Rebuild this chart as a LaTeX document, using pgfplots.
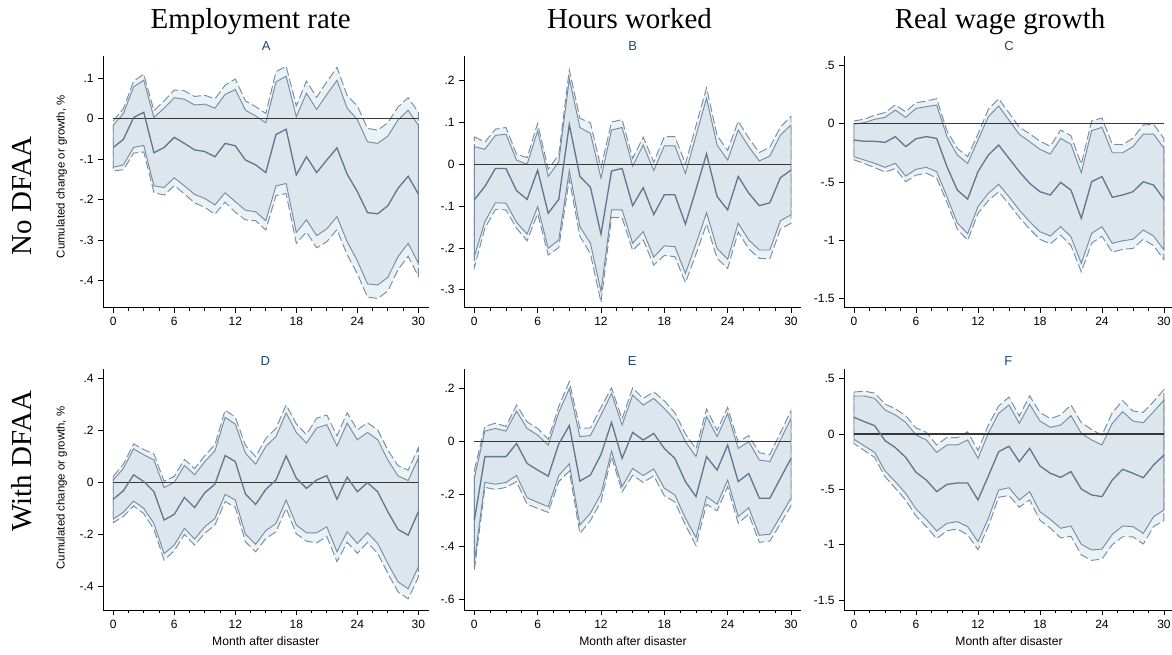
\documentclass[border=0pt]{standalone}
\usepackage{pgfplots}
\pgfplotsset{compat=1.18}
\usepackage{pgfplotstable}
\usepgfplotslibrary{fillbetween}
\usepackage{fontspec}
\setmainfont{Liberation Sans}
\newfontfamily\serifti{Liberation Serif}

\definecolor{outerfill}{RGB}{234,242,245}
\definecolor{innerfill}{RGB}{221,230,236}
\definecolor{bandline}{RGB}{118,140,165}
\definecolor{centerline}{RGB}{96,120,146}
\definecolor{zeroline}{RGB}{55,55,55}
\definecolor{lettercol}{RGB}{26,71,111}

\pgfplotstableread{
m ou iu c il ol
0 -0.006 -0.016 -0.071 -0.120 -0.129
1 0.025 0.013 -0.051 -0.114 -0.126
2 0.093 0.079 0.003 -0.071 -0.085
3 0.110 0.095 0.016 -0.066 -0.082
4 0.020 0.003 -0.084 -0.166 -0.182
5 0.044 0.026 -0.071 -0.170 -0.189
6 0.071 0.052 -0.046 -0.146 -0.165
7 0.069 0.048 -0.061 -0.166 -0.186
8 0.055 0.034 -0.077 -0.187 -0.208
9 0.058 0.036 -0.081 -0.197 -0.219
10 0.049 0.026 -0.094 -0.213 -0.236
11 0.083 0.060 -0.061 -0.183 -0.206
12 0.098 0.072 -0.067 -0.205 -0.231
13 0.044 0.021 -0.102 -0.226 -0.250
14 0.030 0.007 -0.114 -0.230 -0.252
15 0.013 -0.010 -0.133 -0.252 -0.275
16 0.116 0.091 -0.039 -0.166 -0.190
17 0.130 0.105 -0.026 -0.160 -0.185
18 0.032 0.005 -0.139 -0.281 -0.308
19 0.093 0.063 -0.094 -0.250 -0.280
20 0.053 0.023 -0.133 -0.289 -0.319
21 0.091 0.060 -0.102 -0.272 -0.304
22 0.127 0.095 -0.072 -0.242 -0.274
23 0.057 0.026 -0.137 -0.304 -0.336
24 0.032 -0.002 -0.180 -0.351 -0.383
25 -0.024 -0.057 -0.232 -0.408 -0.441
26 -0.028 -0.061 -0.235 -0.411 -0.444
27 -0.010 -0.043 -0.215 -0.392 -0.426
28 0.029 -0.003 -0.172 -0.341 -0.373
29 0.052 0.021 -0.142 -0.308 -0.340
30 0.016 -0.016 -0.186 -0.357 -0.389
}\dataA

\pgfplotstableread{
m ou iu c il ol
0 0.066 0.042 -0.085 -0.221 -0.247
1 0.053 0.036 -0.053 -0.137 -0.153
2 0.084 0.069 -0.010 -0.092 -0.108
3 0.088 0.072 -0.010 -0.093 -0.109
4 0.024 0.010 -0.063 -0.139 -0.153
5 0.016 0.000 -0.084 -0.167 -0.183
6 0.098 0.080 -0.014 -0.101 -0.118
7 -0.012 -0.029 -0.117 -0.201 -0.217
8 0.023 0.006 -0.084 -0.181 -0.199
9 0.226 0.205 0.095 -0.015 -0.036
10 0.110 0.088 -0.029 -0.149 -0.172
11 0.099 0.074 -0.055 -0.189 -0.214
12 -0.008 -0.033 -0.167 -0.304 -0.330
13 0.101 0.082 -0.016 -0.109 -0.127
14 0.107 0.088 -0.010 -0.109 -0.128
15 0.014 -0.004 -0.099 -0.189 -0.206
16 0.065 0.046 -0.056 -0.161 -0.181
17 0.005 -0.015 -0.120 -0.222 -0.241
18 0.066 0.044 -0.073 -0.195 -0.218
19 0.066 0.044 -0.073 -0.197 -0.221
20 0.001 -0.022 -0.143 -0.261 -0.283
21 0.092 0.068 -0.060 -0.190 -0.215
22 0.183 0.158 0.025 -0.116 -0.143
23 0.069 0.046 -0.077 -0.201 -0.225
24 0.033 0.010 -0.109 -0.227 -0.249
25 0.103 0.082 -0.029 -0.141 -0.162
26 0.063 0.042 -0.069 -0.181 -0.202
27 0.028 0.008 -0.099 -0.205 -0.225
28 0.041 0.020 -0.092 -0.205 -0.226
29 0.089 0.070 -0.032 -0.135 -0.155
30 0.115 0.094 -0.014 -0.121 -0.141
}\dataB

\pgfplotstableread{
m ou iu c il ol
0 0.023 -0.003 -0.140 -0.283 -0.310
1 0.039 0.009 -0.151 -0.311 -0.341
2 0.073 0.037 -0.151 -0.340 -0.376
3 0.095 0.054 -0.160 -0.374 -0.415
4 0.160 0.117 -0.111 -0.340 -0.384
5 0.102 0.054 -0.197 -0.449 -0.497
6 0.180 0.131 -0.129 -0.391 -0.441
7 0.195 0.146 -0.111 -0.374 -0.424
8 0.214 0.160 -0.126 -0.411 -0.465
9 -0.062 -0.111 -0.369 -0.626 -0.675
10 -0.212 -0.269 -0.569 -0.851 -0.905
11 -0.282 -0.340 -0.646 -0.943 -0.999
12 -0.089 -0.140 -0.411 -0.711 -0.768
13 0.123 0.060 -0.269 -0.597 -0.659
14 0.214 0.151 -0.183 -0.520 -0.584
15 0.093 0.031 -0.297 -0.626 -0.689
16 -0.030 -0.091 -0.411 -0.740 -0.803
17 -0.086 -0.154 -0.511 -0.840 -0.903
18 -0.151 -0.220 -0.583 -0.926 -0.991
19 -0.193 -0.260 -0.611 -0.963 -1.030
20 -0.054 -0.126 -0.503 -0.883 -0.955
21 -0.103 -0.177 -0.569 -0.969 -1.045
22 -0.346 -0.420 -0.811 -1.197 -1.270
23 0.023 -0.060 -0.497 -0.940 -1.024
24 0.049 -0.031 -0.454 -0.883 -0.965
25 -0.176 -0.249 -0.631 -1.026 -1.101
26 -0.180 -0.249 -0.611 -1.003 -1.077
27 -0.124 -0.197 -0.583 -0.991 -1.069
28 -0.011 -0.089 -0.497 -0.911 -0.990
29 -0.006 -0.089 -0.526 -0.963 -1.046
30 -0.128 -0.211 -0.649 -1.083 -1.165
}\dataC

\pgfplotstableread{
m ou iu c il ol
0 0.024 0.010 -0.064 -0.140 -0.154
1 0.071 0.055 -0.031 -0.114 -0.130
2 0.149 0.130 0.030 -0.071 -0.090
3 0.127 0.107 0.004 -0.099 -0.119
4 0.110 0.087 -0.035 -0.157 -0.180
5 0.005 -0.019 -0.144 -0.273 -0.298
6 0.024 0.001 -0.122 -0.240 -0.262
7 0.089 0.066 -0.057 -0.176 -0.199
8 0.054 0.030 -0.096 -0.217 -0.240
9 0.104 0.081 -0.039 -0.170 -0.195
10 0.146 0.122 -0.006 -0.138 -0.163
11 0.279 0.251 0.104 -0.045 -0.073
12 0.252 0.225 0.081 -0.067 -0.095
13 0.143 0.113 -0.044 -0.199 -0.228
14 0.100 0.071 -0.084 -0.237 -0.266
15 0.170 0.139 -0.026 -0.185 -0.215
16 0.209 0.177 0.010 -0.157 -0.189
17 0.299 0.268 0.103 -0.067 -0.099
18 0.226 0.193 0.017 -0.163 -0.197
19 0.185 0.152 -0.022 -0.193 -0.225
20 0.248 0.210 0.010 -0.193 -0.232
21 0.260 0.223 0.027 -0.170 -0.207
22 0.180 0.141 -0.064 -0.266 -0.304
23 0.269 0.229 0.021 -0.189 -0.229
24 0.203 0.165 -0.035 -0.234 -0.272
25 0.230 0.193 0.000 -0.193 -0.230
26 0.203 0.165 -0.035 -0.234 -0.272
27 0.125 0.087 -0.112 -0.311 -0.349
28 0.065 0.026 -0.180 -0.382 -0.420
29 0.048 0.008 -0.202 -0.408 -0.447
30 0.133 0.094 -0.112 -0.324 -0.364
}\dataD

\pgfplotstableread{
m ou iu c il ol
0 -0.110 -0.140 -0.300 -0.460 -0.490
1 0.057 0.039 -0.058 -0.156 -0.175
2 0.069 0.049 -0.058 -0.163 -0.183
3 0.057 0.039 -0.058 -0.156 -0.175
4 0.138 0.115 -0.008 -0.130 -0.153
5 0.074 0.049 -0.084 -0.214 -0.239
6 0.049 0.024 -0.109 -0.232 -0.255
7 0.008 -0.014 -0.132 -0.248 -0.270
8 0.133 0.110 -0.010 -0.130 -0.153
9 0.227 0.200 0.060 -0.085 -0.113
10 0.050 0.018 -0.151 -0.318 -0.350
11 0.051 0.022 -0.128 -0.273 -0.301
12 0.129 0.100 -0.050 -0.200 -0.229
13 0.203 0.182 0.072 -0.037 -0.058
14 0.086 0.062 -0.065 -0.172 -0.192
15 0.203 0.176 0.034 -0.103 -0.129
16 0.163 0.138 0.005 -0.130 -0.156
17 0.188 0.163 0.030 -0.105 -0.131
18 0.154 0.125 -0.027 -0.178 -0.207
19 0.109 0.081 -0.065 -0.204 -0.230
20 0.028 -0.001 -0.153 -0.292 -0.318
21 -0.029 -0.058 -0.210 -0.366 -0.396
22 0.123 0.094 -0.058 -0.210 -0.239
23 0.042 0.018 -0.109 -0.239 -0.264
24 0.129 0.106 -0.014 -0.147 -0.172
25 -0.003 -0.027 -0.153 -0.286 -0.311
26 0.022 -0.001 -0.122 -0.252 -0.277
27 -0.043 -0.071 -0.216 -0.357 -0.384
28 -0.051 -0.077 -0.216 -0.353 -0.379
29 0.033 0.005 -0.140 -0.285 -0.313
30 0.116 0.087 -0.065 -0.216 -0.245
}\dataE

\pgfplotstableread{
m ou iu c il ol
0 0.379 0.343 0.151 -0.048 -0.086
1 0.387 0.343 0.111 -0.108 -0.150
2 0.369 0.322 0.075 -0.166 -0.212
3 0.270 0.217 -0.060 -0.334 -0.386
4 0.228 0.172 -0.123 -0.431 -0.490
5 0.165 0.105 -0.211 -0.536 -0.598
6 0.055 -0.009 -0.346 -0.678 -0.741
7 0.015 -0.054 -0.416 -0.771 -0.838
8 -0.099 -0.166 -0.521 -0.877 -0.945
9 -0.031 -0.099 -0.455 -0.807 -0.874
10 -0.034 -0.099 -0.443 -0.792 -0.858
11 0.020 -0.054 -0.443 -0.837 -0.912
12 -0.149 -0.220 -0.596 -0.973 -1.045
13 0.079 0.006 -0.380 -0.762 -0.835
14 0.253 0.187 -0.160 -0.506 -0.572
15 0.333 0.262 -0.111 -0.485 -0.556
16 0.162 0.096 -0.250 -0.596 -0.662
17 0.344 0.268 -0.130 -0.521 -0.595
18 0.194 0.117 -0.289 -0.702 -0.780
19 0.139 0.060 -0.355 -0.771 -0.850
20 0.171 0.081 -0.392 -0.852 -0.939
21 0.262 0.166 -0.340 -0.831 -0.924
22 0.102 0.006 -0.497 -0.997 -1.092
23 0.040 -0.054 -0.551 -1.048 -1.142
24 -0.010 -0.099 -0.566 -1.039 -1.129
25 0.193 0.096 -0.416 -0.907 -1.000
26 0.301 0.202 -0.319 -0.831 -0.928
27 0.207 0.117 -0.355 -0.837 -0.929
28 0.196 0.102 -0.395 -0.898 -0.994
29 0.294 0.202 -0.280 -0.747 -0.836
30 0.401 0.307 -0.190 -0.687 -0.781
}\dataF

\newcommand{\bands}[1]{%
  \addplot[draw=none, name path=ou] table[x=m,y=ou]{#1};
  \addplot[draw=none, name path=ol] table[x=m,y=ol]{#1};
  \addplot[fill=outerfill, draw=bandline, line width=0.7pt, dash pattern=on 6.5pt off 2.5pt] fill between[of=ou and ol];
  \addplot[draw=none, name path=iu] table[x=m,y=iu]{#1};
  \addplot[draw=none, name path=il] table[x=m,y=il]{#1};
  \addplot[fill=innerfill, draw=bandline, line width=0.7pt] fill between[of=iu and il];
  \addplot[draw=zeroline, line width=1pt] coordinates {(0,0) (30,0)};
  \addplot[draw=centerline, line width=1pt] table[x=m,y=c]{#1};
}

\pgfplotsset{
  panel/.style={
    scale only axis, anchor=south west,
    axis lines*=left, tick align=outside,
    xtick={0,6,12,18,24,30}, xticklabels={0,6,12,18,24,30},
    minor x tick num=3,
    major tick length=3.75pt, minor tick length=2.2pt,
    every tick/.style={black, line width=0.6pt},
    axis line style={black, line width=0.6pt},
    ticklabel style={font=\fontsize{9}{10.8}\selectfont},
  },
  colA/.style={panel, width=243.9pt, xmin=-0.98, xmax=31.0},
  colB/.style={panel, width=252.525pt, xmin=-0.95, xmax=30.95},
  colC/.style={panel, width=245.55pt, xmin=-0.94, xmax=30.75},
  rowT/.style={height=188.775pt},
  rowB/.style={height=180.75pt},
}

\tikzset{letter/.style={anchor=base, text=lettercol, font=\fontsize{9.75}{11}\selectfont}}

\begin{document}
\begin{tikzpicture}

% Panel A
\begin{axis}[colA, rowT, at={(77.475pt,-230.775pt)}, ymin=-0.467, ymax=0.155,
  ytick={-0.4,-0.3,-0.2,-0.1,0,0.1}, yticklabels={-.4,-.3,-.2,-.1,0,.1}]
\bands{\dataA}
\end{axis}

% Panel B
\begin{axis}[colB, rowT, at={(348.225pt,-230.775pt)}, ymin=-0.343, ymax=0.259,
  ytick={-0.3,-0.2,-0.1,0,0.1,0.2}, yticklabels={-.3,-.2,-.1,0,.1,.2}]
\bands{\dataB}
\end{axis}

% Panel C
\begin{axis}[colC, rowT, at={(633.225pt,-230.775pt)}, ymin=-1.577, ymax=0.58,
  ytick={-1.5,-1,-0.5,0,0.5}, yticklabels={-1.5,-1,-.5,0,.5}]
\bands{\dataC}
\end{axis}

% Panel D
\begin{axis}[colA, rowB, at={(77.475pt,-457.5pt)}, ymin=-0.49, ymax=0.437,
  ytick={-0.4,-0.2,0,0.2,0.4}, yticklabels={-.4,-.2,0,.2,.4}]
\bands{\dataD}
\end{axis}

% Panel E
\begin{axis}[colB, rowB, at={(348.225pt,-457.5pt)}, ymin=-0.641, ymax=0.275,
  ytick={-0.6,-0.4,-0.2,0,0.2}, yticklabels={-.6,-.4,-.2,0,.2}]
\bands{\dataE}
\end{axis}

% Panel F
\begin{axis}[colC, rowB, at={(633.225pt,-457.5pt)}, ymin=-1.59, ymax=0.587,
  ytick={-1.5,-1,-0.5,0,0.5}, yticklabels={-1.5,-1,-.5,0,.5}]
\bands{\dataF}
\end{axis}

% Panel letters
\node[letter] at (199.7pt,-37.5pt) {A};
\node[letter] at (474.5pt,-37.5pt) {B};
\node[letter] at (756.8pt,-37.5pt) {C};
\node[letter] at (198.9pt,-273.75pt) {D};
\node[letter] at (474.2pt,-273.75pt) {E};
\node[letter] at (756.2pt,-273.75pt) {F};

% Column titles
\node[anchor=base, font=\serifti\fontsize{21.7}{24}\selectfont] at (188.0pt,-21.225pt) {Employment rate};
\node[anchor=base, font=\serifti\fontsize{21.7}{24}\selectfont] at (472.1pt,-21.225pt) {Hours worked};
\node[anchor=base, font=\serifti\fontsize{21.7}{24}\selectfont] at (750.0pt,-21.225pt) {Real wage growth};

% Row titles
\node[anchor=base, rotate=90, font=\serifti\fontsize{21.7}{24}\selectfont] at (23.8pt,-146.85pt) {No DFAA};
\node[anchor=base, rotate=90, font=\serifti\fontsize{21.7}{24}\selectfont] at (23.8pt,-345.75pt) {With DFAA};

% y labels
\node[anchor=base, rotate=90, font=\fontsize{8.55}{10}\selectfont] at (48.4pt,-132.5pt) {Cumulated change or growth, \%};
\node[anchor=base, rotate=90, font=\fontsize{8.55}{10}\selectfont] at (48.4pt,-366pt) {Cumulated change or growth, \%};

% x labels
\node[anchor=base, font=\fontsize{9.1}{11}\selectfont] at (199.35pt,-483.75pt) {Month after disaster};
\node[anchor=base, font=\fontsize{9.1}{11}\selectfont] at (474.75pt,-483.75pt) {Month after disaster};
\node[anchor=base, font=\fontsize{9.1}{11}\selectfont] at (756.75pt,-483.75pt) {Month after disaster};

\pgfresetboundingbox
\path[use as bounding box] (0,0) rectangle (879pt,-490.5pt);
\end{tikzpicture}
\end{document}
